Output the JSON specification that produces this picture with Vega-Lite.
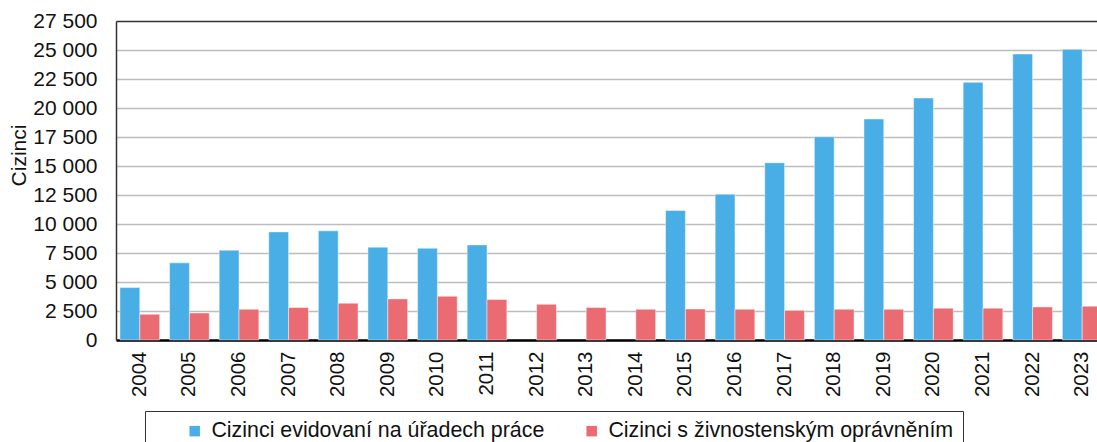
{
  "$schema": "https://vega.github.io/schema/vega-lite/v6.json",
  "width": 981,
  "height": 319,
  "autosize": {"type": "none"},
  "padding": {"left": 116, "top": 21, "right": 0, "bottom": 102},
  "background": "white",
  "config": {
    "font": "Liberation Sans",
    "view": {"stroke": null},
    "axis": {"labelColor": "#111", "titleColor": "#111", "labelFont": "Liberation Sans", "titleFont": "Liberation Sans", "titleFontWeight": "normal"},
    "legend": {"labelFont": "Liberation Sans", "labelColor": "#111"}
  },
  "data": {
    "values": [
      {"year": "2004", "series": "Cizinci evidovaní na úřadech práce", "value": 4520},
      {"year": "2005", "series": "Cizinci evidovaní na úřadech práce", "value": 6650},
      {"year": "2006", "series": "Cizinci evidovaní na úřadech práce", "value": 7740},
      {"year": "2007", "series": "Cizinci evidovaní na úřadech práce", "value": 9320},
      {"year": "2008", "series": "Cizinci evidovaní na úřadech práce", "value": 9410},
      {"year": "2009", "series": "Cizinci evidovaní na úřadech práce", "value": 8000},
      {"year": "2010", "series": "Cizinci evidovaní na úřadech práce", "value": 7910},
      {"year": "2011", "series": "Cizinci evidovaní na úřadech práce", "value": 8200},
      {"year": "2015", "series": "Cizinci evidovaní na úřadech práce", "value": 11170},
      {"year": "2016", "series": "Cizinci evidovaní na úřadech práce", "value": 12570},
      {"year": "2017", "series": "Cizinci evidovaní na úřadech práce", "value": 15280},
      {"year": "2018", "series": "Cizinci evidovaní na úřadech práce", "value": 17520},
      {"year": "2019", "series": "Cizinci evidovaní na úřadech práce", "value": 19050},
      {"year": "2020", "series": "Cizinci evidovaní na úřadech práce", "value": 20860},
      {"year": "2021", "series": "Cizinci evidovaní na úřadech práce", "value": 22210},
      {"year": "2022", "series": "Cizinci evidovaní na úřadech práce", "value": 24660},
      {"year": "2023", "series": "Cizinci evidovaní na úřadech práce", "value": 25060},
      {"year": "2004", "series": "Cizinci s živnostenským oprávněním", "value": 2220},
      {"year": "2005", "series": "Cizinci s živnostenským oprávněním", "value": 2330},
      {"year": "2006", "series": "Cizinci s živnostenským oprávněním", "value": 2650},
      {"year": "2007", "series": "Cizinci s živnostenským oprávněním", "value": 2800},
      {"year": "2008", "series": "Cizinci s živnostenským oprávněním", "value": 3170},
      {"year": "2009", "series": "Cizinci s živnostenským oprávněním", "value": 3540},
      {"year": "2010", "series": "Cizinci s živnostenským oprávněním", "value": 3770},
      {"year": "2011", "series": "Cizinci s živnostenským oprávněním", "value": 3490},
      {"year": "2012", "series": "Cizinci s živnostenským oprávněním", "value": 3080},
      {"year": "2013", "series": "Cizinci s živnostenským oprávněním", "value": 2800},
      {"year": "2014", "series": "Cizinci s živnostenským oprávněním", "value": 2650},
      {"year": "2015", "series": "Cizinci s živnostenským oprávněním", "value": 2675},
      {"year": "2016", "series": "Cizinci s živnostenským oprávněním", "value": 2650},
      {"year": "2017", "series": "Cizinci s živnostenským oprávněním", "value": 2560},
      {"year": "2018", "series": "Cizinci s živnostenským oprávněním", "value": 2650},
      {"year": "2019", "series": "Cizinci s živnostenským oprávněním", "value": 2650},
      {"year": "2020", "series": "Cizinci s živnostenským oprávněním", "value": 2740},
      {"year": "2021", "series": "Cizinci s živnostenským oprávněním", "value": 2740},
      {"year": "2022", "series": "Cizinci s živnostenským oprávněním", "value": 2850},
      {"year": "2023", "series": "Cizinci s živnostenským oprávněním", "value": 2910}
    ]
  },
  "mark": {"type": "bar", "stroke": "#ffffff", "strokeOpacity": 0.45, "strokeWidth": 1, "clip": false},
  "encoding": {
    "x": {
      "field": "year",
      "type": "ordinal",
      "scale": {
        "domain": ["2004","2005","2006","2007","2008","2009","2010","2011","2012","2013","2014","2015","2016","2017","2018","2019","2020","2021","2022","2023"],
        "range": [0, 990],
        "paddingInner": 0.2,
        "paddingOuter": 0.08
      },
      "axis": {
        "title": null,
        "labelAngle": 270,
        "labelAlign": "right",
        "labelBaseline": "middle",
        "labelFontSize": 20.5,
        "labelPadding": 11,
        "ticks": false,
        "domainColor": "#000000",
        "domainWidth": 2.5,
        "labelOverlap": false
      }
    },
    "xOffset": {
      "field": "series",
      "type": "nominal",
      "scale": {"domain": ["Cizinci evidovaní na úřadech práce", "Cizinci s živnostenským oprávněním"], "paddingInner": 0, "paddingOuter": 0}
    },
    "y": {
      "field": "value",
      "type": "quantitative",
      "scale": {"domain": [0, 27500], "nice": false},
      "axis": {
        "title": "Cizinci",
        "titleFontSize": 21,
        "titleX": -97,
        "titleY": 134,
        "titleAngle": 270,
        "titleAlign": "center",
        "titleBaseline": "middle",
        "values": [0, 2500, 5000, 7500, 10000, 12500, 15000, 17500, 20000, 22500, 25000, 27500],
        "format": ",d",
        "labelExpr": "replace(datum.label, ',', ' ')",
        "labelFontSize": 21,
        "labelPadding": 19,
        "ticks": false,
        "domainColor": "#333333",
        "domainWidth": 1.5,
        "grid": true,
        "gridColor": {"condition": {"test": "datum.value === 27500", "value": "#333333"}, "value": "#bdbdbd"},
        "gridWidth": 1.5
      }
    },
    "color": {
      "field": "series",
      "type": "nominal",
      "scale": {"domain": ["Cizinci evidovaní na úřadech práce", "Cizinci s živnostenským oprávněním"], "range": ["#4AAEE6", "#EB6B73"]},
      "legend": {
        "title": null,
        "orient": "none",
        "direction": "horizontal",
        "legendX": 29,
        "legendY": 390,
        "symbolType": "square",
        "symbolSize": 110,
        "symbolStrokeWidth": 0,
        "symbolOffset": 30,
        "labelFontSize": 21.4,
        "labelOffset": 6,
        "columnPadding": 6,
        "padding": 9,
        "strokeColor": "#333333",
        "fillColor": "white",
        "labelLimit": 600
      }
    }
  }
}
